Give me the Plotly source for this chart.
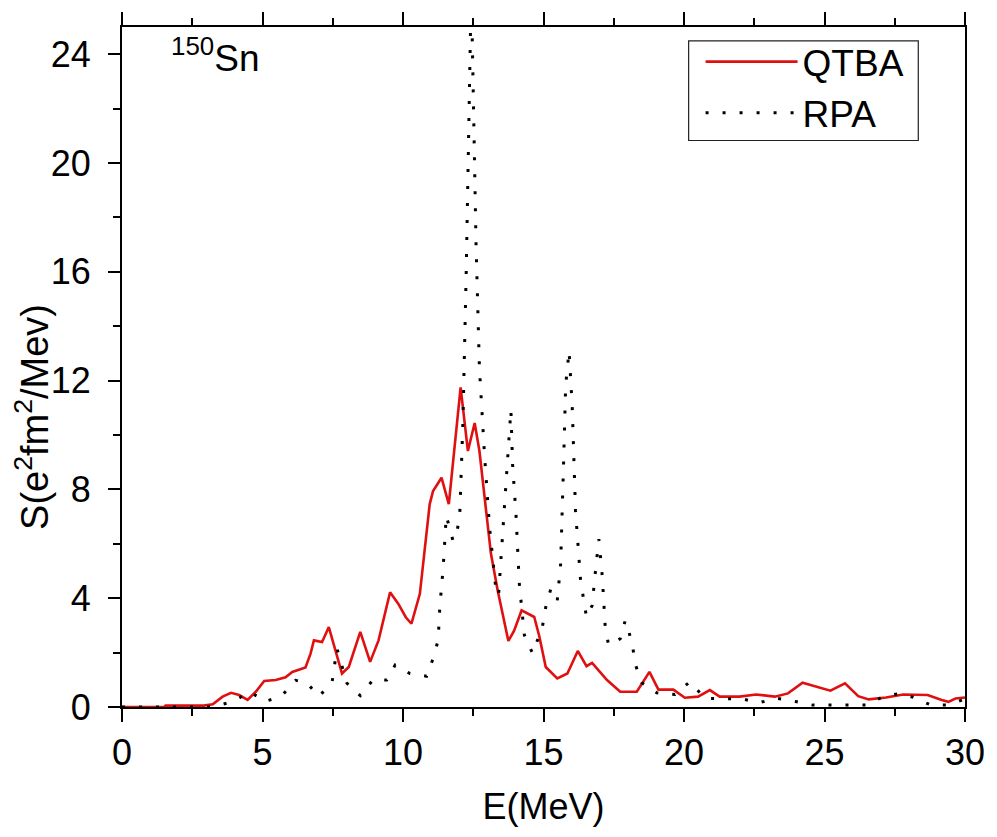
import plotly.graph_objects as go

# QTBA strength function
qtba_E = [0, 1.5, 1.55, 2.9, 3.23, 3.58, 3.88, 4.17, 4.47, 4.76, 5.06, 5.47, 5.82, 6.06, 6.53,
          6.71, 6.83, 7.12, 7.36, 7.53, 7.83, 8.07, 8.48, 8.83, 9.13, 9.54, 9.83, 10.1, 10.3,
          10.6, 10.95, 11.07, 11.37, 11.63, 11.86, 12.05, 12.31, 12.55, 12.72, 12.96, 13.13,
          13.37, 13.75, 13.95, 14.22, 14.67, 14.85, 15.08, 15.49, 15.85, 16.22, 16.53, 16.73,
          17.26, 17.73, 18.32, 18.77, 19.09, 19.62, 20.03, 20.5, 20.92, 21.27, 21.98, 22.57,
          23.23, 23.7, 24.22, 24.71, 25.21, 25.73, 26.2, 26.57, 27.19, 27.8, 28.67, 29.17,
          29.41, 29.66, 30]
qtba_S = [0, 0, 0.05, 0.05, 0.1, 0.38, 0.52, 0.44, 0.26, 0.56, 0.96, 0.99, 1.09, 1.29, 1.45,
          1.96, 2.45, 2.39, 2.94, 2.33, 1.23, 1.47, 2.76, 1.66, 2.45, 4.22, 3.8, 3.3, 3.06,
          4.16, 7.46, 7.94, 8.43, 7.46, 9.77, 11.75, 9.41, 10.44, 9.41, 7.09, 5.63,
          4.28, 2.43, 2.8, 3.55, 3.31, 2.6, 1.47, 1.05, 1.23, 2.06, 1.5, 1.62,
          0.99, 0.56, 0.56, 1.29, 0.64, 0.64, 0.34, 0.38, 0.62, 0.38, 0.38, 0.46,
          0.38, 0.5, 0.89, 0.74, 0.6, 0.87, 0.4, 0.28, 0.35, 0.46, 0.44, 0.26,
          0.19, 0.31, 0.35]

# RPA strength function
rpa_E = [0, 3.2, 3.88, 4.2, 4.53, 4.8, 5.06, 5.4, 5.71, 6.18, 6.59, 7.0, 7.47, 7.65, 7.83,
         8.0, 8.48, 8.95, 9.42, 9.72, 10.25, 10.84, 11.07, 11.25, 11.31, 11.43, 11.54, 11.78,
         11.93, 12.02, 12.13, 12.25, 12.43, 12.6, 12.72, 12.78, 12.9, 13.08, 13.31, 13.4,
         13.55, 13.67, 13.84, 13.9, 14.02, 14.14, 14.26, 14.32, 14.61, 14.96, 15.08, 15.26,
         15.49, 15.61, 15.72, 15.79, 15.91, 16.02, 16.14, 16.32, 16.53, 16.73, 16.85, 16.97,
         17.09, 17.2, 17.32, 17.73, 17.91, 18.03, 18.18, 18.29, 18.5, 19.03, 19.68, 20.21,
         20.74, 21.39, 22.05, 22.68, 23.29, 23.97, 24.58, 25.2, 25.82, 26.5, 27.12, 27.74,
         28.17, 28.79, 29.41, 30]
rpa_S = [0, 0, 0.18, 0.35, 0.56, 0.4, 0.2, 0.3, 0.44, 0.98, 0.88, 0.39, 0.87, 2.15, 1.5,
         0.88, 0.42, 1.02, 0.99, 1.54, 1.23, 1.13, 1.78, 2.45, 3.67, 5.13, 7.03, 6.11,
         6.48, 7.09, 10.38, 16.0, 26.5, 17.0, 12.46, 11.24, 9.28, 6.6, 4.28, 4.1,
         6.35, 8.31, 10.93, 8.92, 7.09, 4.53, 3.31, 2.64, 1.97, 2.94, 3.67, 4.34,
         3.92, 5.26, 9.16, 11.85, 13.09, 11.1, 7.21, 4.65, 3.31, 3.73, 5.01, 6.17,
         4.83, 2.88, 2.27, 2.51, 3.18, 2.82, 2.15, 1.5, 0.89, 0.52, 0.46, 0.93,
         0.32, 0.32, 0.3, 0.16, 0.32, 0.2, 0.07, 0.07, 0.07, 0.07, 0.4, 0.5,
         0.35, 0.07, 0.07, 0.3]

x_ticks = [0, 5, 10, 15, 20, 25, 30]
y_ticks = [0, 4, 8, 12, 16, 20, 24]

FONT = "Liberation Sans, Arial, sans-serif"
RED = "#e01010"

fig = go.Figure()
fig.add_trace(go.Scatter(x=qtba_E, y=qtba_S, mode="lines", name="QTBA",
                         line=dict(color=RED, width=2.6)))
fig.add_trace(go.Scatter(x=rpa_E, y=rpa_S, mode="lines", name="RPA",
                         line=dict(color="black", width=3, dash="3px,14px")))

axis_common = dict(showgrid=False, zeroline=False, linecolor="black", linewidth=2,
                   ticks="outside", tickwidth=2, tickcolor="black",
                   tickfont=dict(family=FONT, size=36, color="black"))

fig.update_xaxes(range=[0, 30], tickvals=x_ticks, ticklen=13, mirror="ticks",
                 minor=dict(dtick=2.5, tick0=0, ticklen=7, tickwidth=2, ticks="outside",
                            tickcolor="black"),
                 title=dict(text="E(MeV)", font=dict(family=FONT, size=36, color="black"),
                            standoff=22),
                 **axis_common)
fig.update_yaxes(range=[0, 25], tickvals=y_ticks, ticklen=12, mirror=True,
                 ticklabelstandoff=10,
                 minor=dict(dtick=2, tick0=0, ticklen=7, tickwidth=2, ticks="outside",
                            tickcolor="black"),
                 **axis_common)

fig.add_annotation(text="S(e<sup>2</sup>fm<sup>2</sup>/Mev)", textangle=-90,
                   xref="paper", yref="paper", x=-0.106, y=0.426,
                   xanchor="center", yanchor="middle", showarrow=False,
                   font=dict(family=FONT, size=38, color="black"))
fig.add_annotation(text="<sup>150</sup>Sn", xref="paper", yref="paper",
                   x=0.056, y=0.995, xanchor="left", yanchor="top", showarrow=False,
                   font=dict(family=FONT, size=37, color="black"))

# legend frame
fig.add_shape(type="rect", xref="paper", yref="paper",
              x0=(692 - 122) / 848, x1=(923 - 122) / 848,
              y0=(707 - 138) / 683, y1=(707 - 38) / 683,
              line=dict(color="#222", width=1.2), fillcolor="rgba(0,0,0,0)", layer="above")

fig.update_layout(
    width=997, height=837,
    margin=dict(l=122, r=27, t=24, b=130),
    paper_bgcolor="white", plot_bgcolor="white",
    legend=dict(x=(704 - 122) / 848, y=0.994, xanchor="left", yanchor="top",
                borderwidth=0, bgcolor="rgba(0,0,0,0)",
                font=dict(family=FONT, size=37, color="black"),
                itemwidth=92, tracegroupgap=0),
    showlegend=True,
)

fig.write_html("out.html")
